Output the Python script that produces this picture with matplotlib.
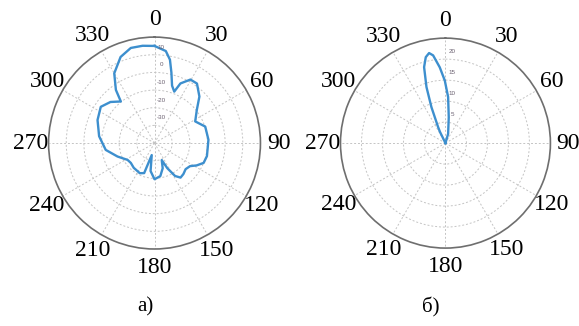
import numpy as np
import matplotlib
matplotlib.use('Agg')
import matplotlib.pyplot as plt

# pattern a), dB
angles_a = [0, 7, 10.5, 13.5, 17, 21, 23.5, 29.5, 35.5, 44, 52, 62, 72, 86.5, 104, 112, 118,
            123, 130, 137, 143, 148, 153, 157, 162, 170, 180, 188, 193, 199, 206, 213, 220,
            230, 238, 250, 262, 277, 292, 304, 313, 321, 324, 330, 338.5, 346, 353, 360]
gain_a = [15.0, 12.5, 8.0, 1.0, -6.0, -8.8, -3.2, 1.3, 1.4, -3.4, -9.6, -13.9, -9.8, -9.4,
          -9.4, -10.0, -13.0, -16.0, -17.0, -16.0, -15.5, -18.0, -24.0, -29.5, -25.0, -21.0,
          -19.5, -24.0, -33.0, -22.0, -21.0, -21.5, -21.7, -22.5, -22.0, -17.7, -12.1, -8.4,
          -5.2, -3.3, -5.9, -9.7, -2.8, 5.6, 12.4, 15.5, 15.5, 15.0]
rticks_a = [-30, -20, -10, 0, 10]
rlim_a = (-40, 20)

# pattern б)
angles_b = [-40, -26, -24.6, -21.3, -18.7, -15.7, -12.9, -10.3, -8, -4.3, -0.6, 3.3, 7.3, 16, 25]
gain_b = [0, 3.0, 4.2, 9.2, 14.1, 18.8, 21.0, 21.8, 21.1, 18.1, 14.9, 11.0, 6.2, 2.3, 0]
rticks_b = [5, 10, 15, 20]
rlim_b = (0, 25)

theta_ticks = np.arange(0, 360, 30)
captions = ['а)', 'б)']

plt.rcParams['font.family'] = ['Liberation Serif', 'DejaVu Serif']

fig = plt.figure(figsize=(5.79, 3.26), dpi=100)
ax_a = fig.add_axes([0.0838, 0.2362, 0.3661, 0.650], projection='polar')
ax_b = fig.add_axes([0.588, 0.239, 0.3627, 0.644], projection='polar')


def style_polar(ax, rlim, rticks):
    ax.set_theta_zero_location('N')
    ax.set_theta_direction(-1)
    ax.set_ylim(*rlim)
    ax.set_yticks(rticks)
    ax.set_yticklabels([])
    ax.set_xticks(np.deg2rad(theta_ticks))
    ax.set_xticklabels([str(t) for t in theta_ticks], fontsize=17)
    ax.tick_params(axis='x', pad=2.5)
    ax.grid(True, color='#c4c4c4', linestyle=(0, (2, 2)), linewidth=0.7)
    ax.spines['polar'].set_color('#6e6e6e')
    ax.spines['polar'].set_linewidth(1.2)
    for t in rticks:
        ax.annotate(str(t), xy=(0, t), xytext=(5, 5.5), textcoords='offset points',
                    ha='center', va='center', fontsize=4.5, color='#6a6070',
                    family='Liberation Sans')


style_polar(ax_a, rlim_a, rticks_a)
ax_a.plot(np.deg2rad(angles_a), gain_a, color='#3d8fce', linewidth=1.7)

style_polar(ax_b, rlim_b, rticks_b)
ax_b.plot(np.deg2rad(angles_b), gain_b, color='#3d8fce', linewidth=1.7)

fig.text(145 / 579, 1 - 307 / 326, captions[0], ha='center', va='center', fontsize=15)
fig.text(431 / 579, 1 - 307 / 326, captions[1], ha='center', va='center', fontsize=15)

fig.savefig('out.png', dpi=100)
